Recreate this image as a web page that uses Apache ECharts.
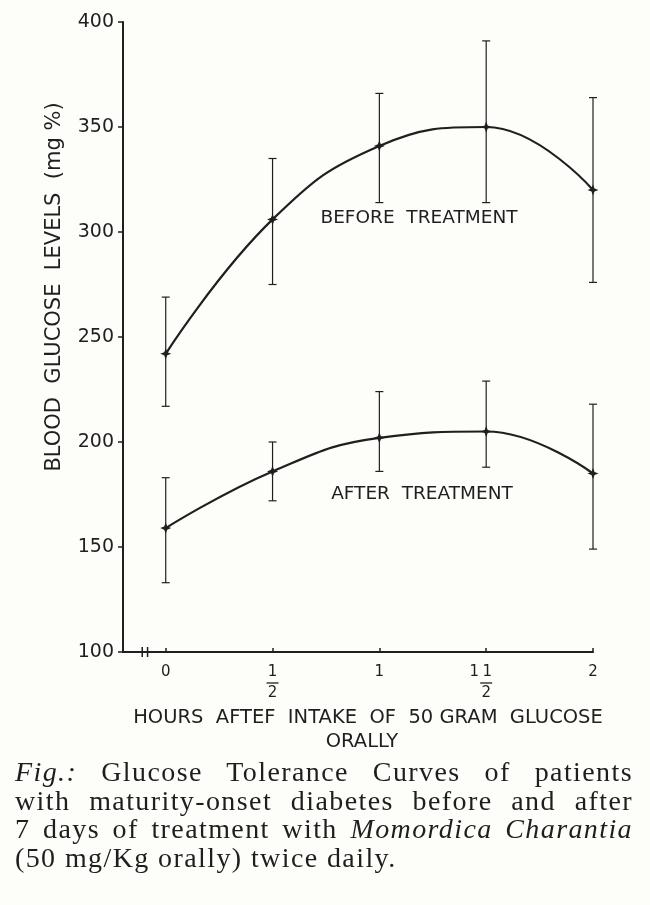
<!DOCTYPE html>
<html>
  <head>
    <meta charset="utf-8" />
    <title>Glucose Tolerance Curves</title>
    <script src="https://cdn.jsdelivr.net/npm/echarts@6.0.0/dist/echarts.min.js"></script>
    <style>
      body { margin: 0; background: #fdfdfa; }
      #main { width: 650px; height: 905px; }
      #caption {
        position: absolute; left: 15px; top: 758px; width: 618px;
        font-family: "Liberation Serif", serif; font-size: 28px; line-height: 28.5px;
        letter-spacing: 1.4px; color: #1e1e1e;
      }
      #caption div { text-align: justify; text-align-last: justify; white-space: nowrap; }
      #caption div.last { text-align-last: left; }
    </style>
  </head>
  <body>
    <div id="main"></div>
    <div id="caption">
      <div><i>Fig.:</i> Glucose Tolerance Curves of patients</div>
      <div>with maturity-onset diabetes before and after</div>
      <div>7 days of treatment with <i>Momordica Charantia</i></div>
      <div class="last">(50 mg/Kg orally) twice daily.</div>
    </div>
    <script type="text/javascript">
// hours after glucose intake
var hours = [0, 0.5, 1, 1.5, 2];
// mean blood glucose (mg %) and error bar ends
var beforeMean = [242, 306, 341, 350, 320];
var beforeLow = [217, 275, 314, 314, 276];
var beforeHigh = [269, 335, 366, 391, 364];
var afterMean = [159, 186, 202, 205, 185];
var afterLow = [133, 172, 186, 188, 149];
var afterHigh = [183, 200, 224, 229, 218];
// axis ticks
var yTicks = [100, 150, 200, 250, 300, 350, 400];

var ink = '#1f1f1f';
var font = '"DejaVu Sans", sans-serif';

function pairs(xs, ys) {
  return xs.map(function (x, i) { return [x, ys[i]]; });
}
function bars(xs, lo, hi) {
  return xs.map(function (x, i) { return [x, lo[i], hi[i]]; });
}

function renderBar(params, api) {
  var x = api.value(0);
  var top = api.coord([x, api.value(2)]);
  var bot = api.coord([x, api.value(1)]);
  var w = 4;
  var st = { stroke: ink, lineWidth: 1.2 };
  return {
    type: 'group',
    children: [
      { type: 'line', shape: { x1: top[0], y1: top[1], x2: bot[0], y2: bot[1] }, style: st },
      { type: 'line', shape: { x1: top[0] - w, y1: top[1], x2: top[0] + w, y2: top[1] }, style: st },
      { type: 'line', shape: { x1: bot[0] - w, y1: bot[1], x2: bot[0] + w, y2: bot[1] }, style: st }
    ]
  };
}

// numerator / bar / denominator stacked with rich text
function xLabel(v) {
  if (v === 0.5) return '{s|}{n|1}{s|}\n{s|}{bar|}{s|}\n{s|}{d|2}{s|}';
  if (v === 1.5) return '{w|1}{n|1}{s|}\n{s|}{bar|}{s|}\n{s|}{d|2}{s|}';
  return '{s|}{n|' + String(v) + '}{s|}\n{s|}\n{s|}';
}

var star = 'path://M0,-6 L1.7,-1.7 L6,0 L1.7,1.7 L0,6 L-1.7,1.7 L-6,0 L-1.7,-1.7 Z';

function title(id, text, x, y, size, rot) {
  return {
    type: 'text', id: id, x: x, y: y, rotation: rot || 0,
    style: { text: text, fontFamily: font, fontSize: size, fill: ink, textAlign: 'center', textVerticalAlign: 'middle' }
  };
}

var myChart = echarts.init(document.getElementById('main'));
myChart.setOption({
  backgroundColor: '#fdfdfa',
  animation: false,
  grid: { left: 123, right: 57, top: 22, bottom: 253 },
  xAxis: {
    type: 'value',
    min: -0.2,
    max: 2,
    splitLine: { show: false },
    axisLine: { onZero: false, lineStyle: { color: ink, width: 2 } },
    axisTick: { inside: true, length: 4, lineStyle: { color: ink, width: 1.5 }, customValues: hours },
    axisLabel: {
      customValues: hours,
      margin: 12,
      formatter: function (v) { return xLabel(v); },
      rich: {
        n: { fontFamily: font, fontSize: 15, color: ink, width: 12, align: 'center', lineHeight: 17 },
        w: { fontFamily: font, fontSize: 15, color: ink, width: 14, align: 'center', lineHeight: 17 },
        s: { width: 12, lineHeight: 4, height: 4 },
        bar: { width: 12, height: 1.3, backgroundColor: ink, lineHeight: 4 },
        d: { fontFamily: font, fontSize: 15, color: ink, width: 12, align: 'center', lineHeight: 17 }
      }
    }
  },
  yAxis: {
    type: 'value',
    min: 100,
    max: 400,
    interval: 50,
    splitLine: { show: false },
    axisLine: { show: true, onZero: false, lineStyle: { color: ink, width: 2 } },
    axisTick: { show: true, length: 5, lineStyle: { color: ink, width: 1.5 } },
    axisLabel: {
      margin: 9,
      color: ink,
      fontFamily: font,
      fontSize: 19,
      formatter: function (v) { return yTicks.indexOf(v) >= 0 ? String(v) : ''; }
    }
  },
  graphic: [
    title('yname', 'BLOOD  GLUCOSE  LEVELS  (mg %)', 55, 287, 21, Math.PI / 2),
    title('before', 'BEFORE  TREATMENT', 419, 218, 18.5),
    title('after', 'AFTER  TREATMENT', 422, 494, 18.5),
    title('xname', 'HOURS  AFTEF  INTAKE  OF  50 GRAM  GLUCOSE', 368, 718, 19.5),
    title('xname2', 'ORALLY', 362, 742, 19.5)
  ],
  series: [
    {
      name: 'Before treatment',
      type: 'line',
      smooth: 0.45,
      data: pairs(hours, beforeMean),
      symbol: star,
      symbolSize: 11,
      itemStyle: { color: ink },
      lineStyle: { color: ink, width: 2.2 },
      z: 3
    },
    {
      name: 'After treatment',
      type: 'line',
      smooth: 0.45,
      data: pairs(hours, afterMean),
      symbol: star,
      symbolSize: 11,
      itemStyle: { color: ink },
      lineStyle: { color: ink, width: 2.2 },
      z: 3
    },
    {
      name: 'Before SD',
      type: 'custom',
      renderItem: renderBar,
      data: bars(hours, beforeLow, beforeHigh),
      z: 2
    },
    {
      name: 'After SD',
      type: 'custom',
      renderItem: renderBar,
      data: bars(hours, afterLow, afterHigh),
      z: 2
    }
  ]
});

// axis break mark on the hour axis, just left of zero
var b1 = myChart.convertToPixel({ xAxisIndex: 0, yAxisIndex: 0 }, [-0.11, 100]);
var b2 = myChart.convertToPixel({ xAxisIndex: 0, yAxisIndex: 0 }, [-0.085, 100]);
myChart.setOption({
  graphic: [
    { id: 'brk1', type: 'line', shape: { x1: b1[0], y1: b1[1] - 5, x2: b1[0], y2: b1[1] + 5 }, style: { stroke: ink, lineWidth: 1.5 } },
    { id: 'brk2', type: 'line', shape: { x1: b2[0], y1: b2[1] - 5, x2: b2[0], y2: b2[1] + 5 }, style: { stroke: ink, lineWidth: 1.5 } }
  ]
});
    </script>
  </body>
</html>
